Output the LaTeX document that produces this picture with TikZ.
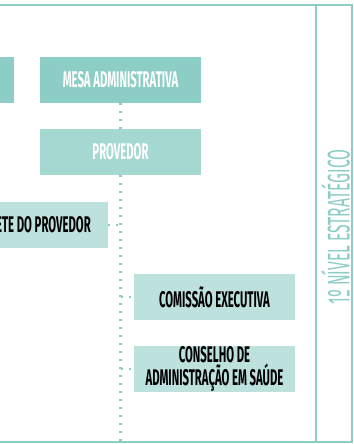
\documentclass[tikz,border=0pt]{standalone}
\usepackage{fontspec}
\usepackage{tikz}
\newfontfamily\boxfont[FakeStretch=0.5]{Fira Sans Bold}
\newfontfamily\levelfont[FakeStretch=0.5]{Fira Sans}
\definecolor{tealA}{HTML}{8CCDC5}
\definecolor{tealB}{HTML}{A6D8D2}
\definecolor{tealC}{HTML}{BDE1DD}

\begin{document}
\begin{tikzpicture}[x=.75pt, y=-.75pt,
  orgbox/.style={rectangle, inner sep=0pt, minimum width=161*.75pt, minimum height=46*.75pt,
    align=center, font=\boxfont\fontsize{17pt}{16.3pt}\selectfont},
  topbox/.style={orgbox, fill=tealA, text=white},
  midbox/.style={orgbox, fill=tealB, text=white},
  subbox/.style={orgbox, fill=tealC, text=black},
  levellabel/.style={text=tealA, font=\levelfont\fontsize{23.5pt}{24pt}\selectfont, rotate=90},
  link/.style={draw=tealA, line width=1.7pt, dash pattern=on 1.6pt off 4.4pt}]
\useasboundingbox (0,0) rectangle (354,444);
\clip (0,0) rectangle (354,444);
% frame
\path [draw=tealA, line width=1.8pt] (-10,5) -- (352,5) -- (352,442) -- (-10,442);
\path [draw=tealA, line width=1.8pt] (316,5) -- (316,442);
\node [levellabel] (level) at (335.5,227) {1º NÍVEL ESTRATÉGICO};
% boxes
\node [topbox] (left) at (-66.5,80) {};
\node [topbox] (mesa) at (120.5,80) {MESA ADMINISTRATIVA};
\node [midbox] (prov) at (120.5,152) {PROVEDOR};
\node [subbox] (gab) at (27.5,225) {GABINETE DO PROVEDOR};
\node [subbox] (com) at (214.5,297) {COMISSÃO EXECUTIVA};
\node [subbox] (cons) at (214.5,369) {CONSELHO DE\\ADMINISTRAÇÃO EM SAÚDE};
\coordinate (bot) at (120.5,444);
% links
\path [link] (mesa.south) -- (prov.north);
\path [link] (prov.south) -- (bot);
\path [link] (gab.east) -- (gab.east -| bot);
\path [link] (com.west -| bot) -- (com.west);
\path [link] (cons.west -| bot) -- (cons.west);
\end{tikzpicture}
\end{document}
